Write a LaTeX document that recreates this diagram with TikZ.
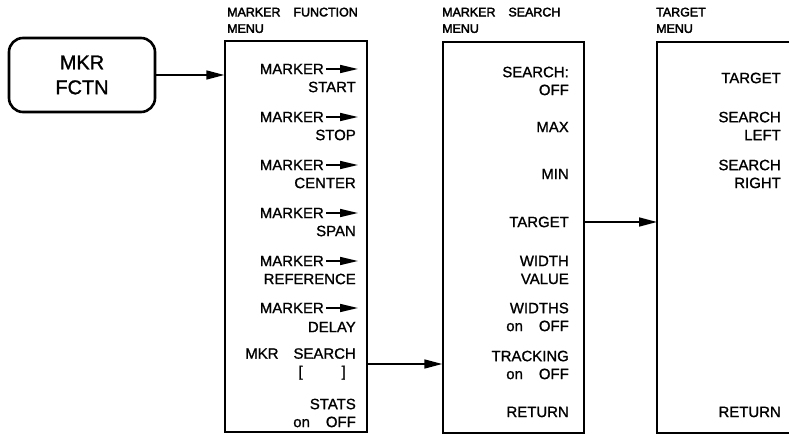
\documentclass[tikz,border=0pt]{standalone}
\usepackage{fontspec}
\setmainfont{Liberation Sans}[FakeBold=1.2]
\newfontfamily\ttlfont{Liberation Sans}[FakeBold=2.6]
\usetikzlibrary{arrows.meta}
\begin{document}
\begin{tikzpicture}[x=1bp,y=-1bp,
  box/.style={draw, line width=1.4bp, inner sep=0pt},
  item/.style={font=\fontsize{15}{18}\selectfont, inner sep=0pt, align=right, anchor=east},
  ttl/.style={font=\ttlfont\fontsize{12.5}{16.5}\selectfont, inner sep=0pt, align=left, anchor=north west},
  conn/.style={line width=1.6bp, -{Triangle[length=18bp,width=9bp]}},
  mk/.style={line width=1.6bp, -{Triangle[length=18bp,width=8bp]}}
]
\useasboundingbox (0,0) rectangle (790,436);

% key
\node[box, rounded corners=14bp, line width=2.6bp, minimum width=146bp, minimum height=74bp,
      font=\fontsize{20}{25}\selectfont, align=center] (fctn) at (82,75) {MKR\\FCTN};

% menu boxes
\node[box, minimum width=142bp, minimum height=391bp] (m1) at (296,236.5) {};
\node[box, minimum width=141bp, minimum height=391bp] (m2) at (513.5,237.5) {};
\draw[line width=1.4bp] (789,42) -- (657,42) -- (657,433) -- (789,433);
\coordinate (m3w) at (657,222);

% titles
\node[ttl] (t1) at (227,7.5) {MARKER\hspace{13bp}FUNCTION\\MENU};
\node[ttl] (t2) at (442,7.5) {MARKER\hspace{13bp}SEARCH\\MENU};
\node[ttl] (t3) at (656,7.5) {TARGET\\MENU};

% marker function menu
\node[item] (a1) at (324,69) {MARKER};
\node[item] (a1b) at (356,87) {START};
\node[item] (a2) at (324,117) {MARKER};
\node[item] (a2b) at (356,135) {STOP};
\node[item] (a3) at (324,165) {MARKER};
\node[item] (a3b) at (356,183) {CENTER};
\node[item] (a4) at (324,213) {MARKER};
\node[item] (a4b) at (356,231) {SPAN};
\node[item] (a5) at (324,261) {MARKER};
\node[item] (a5b) at (356,279) {REFERENCE};
\node[item] (a6) at (324,308) {MARKER};
\node[item] (a6b) at (356,327) {DELAY};
\foreach \n in {a1,a2,a3,a4,a5,a6}
  \draw[mk] ([xshift=2bp]\n.east) -- ++(32,0);
\node[item] (ms) at (356,364) {MKR\hspace{15bp}SEARCH\\{[}\kern39bp{]}\kern10bp};
\node[item] (st) at (356,413) {STATS\\on\hspace{16bp}OFF};

% marker search menu
\node[item] (b1) at (569,81) {SEARCH:\\OFF};
\node[item] (b2) at (569,127) {MAX};
\node[item] (b3) at (569,174) {MIN};
\node[item] (tg) at (569,222) {TARGET};
\node[item] (b5) at (569,270) {WIDTH\\VALUE};
\node[item] (b6) at (569,317) {WIDTHS\\on\hspace{16bp}OFF};
\node[item] (b7) at (569,365) {TRACKING\\on\hspace{16bp}OFF};
\node[item] (b8) at (569,412) {RETURN};

% target menu
\node[item] (c1) at (781,78) {TARGET};
\node[item] (c2) at (781,126) {SEARCH\\LEFT};
\node[item] (c3) at (781,174) {SEARCH\\RIGHT};
\node[item] (c4) at (781,412) {RETURN};

% connectors
\draw[conn] (fctn.east) -- (fctn.east -| m1.west);
\draw[conn] (ms -| m1.east) -- (ms -| m2.west);
\draw[conn] (tg -| m2.east) -- (m3w);
\end{tikzpicture}
\end{document}
